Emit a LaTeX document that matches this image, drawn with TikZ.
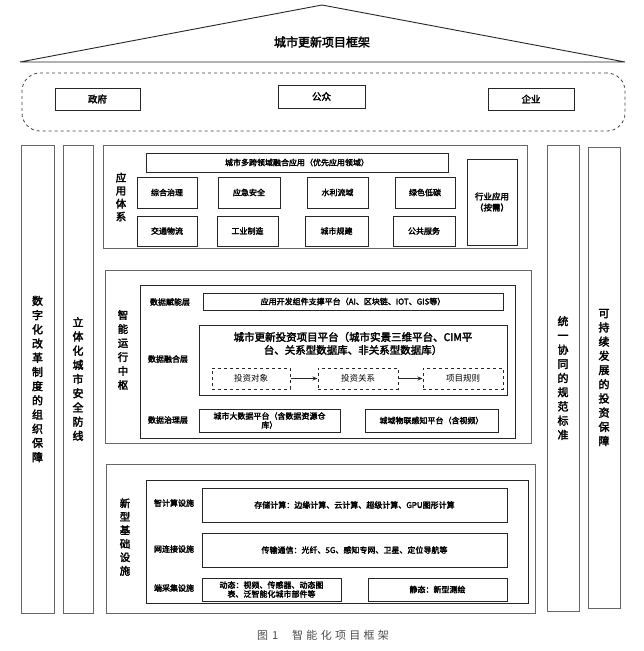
\documentclass[tikz,border=0pt]{standalone}
\usepackage{fontspec}
\setmainfont{Noto Sans CJK SC}[AutoFakeBold=2.6]
\usetikzlibrary{arrows.meta}
\tikzset{
  bx/.style={draw=black!85, line width=1pt, inner sep=0pt, align=center, font=\fontsize{8}{10}\selectfont\bfseries},
  outer/.style={draw=black!60, line width=0.8pt, inner sep=0pt},
  dbox/.style={draw=black!85, line width=1pt, dashed, inner sep=0pt, align=center, font=\fontsize{8.5}{10}\selectfont},
  lbl/.style={inner sep=0pt, align=center, font=\fontsize{8}{10}\selectfont\bfseries},
  vlbl/.style={inner sep=0pt, align=center, font=\fontsize{10.5}{13.5}\selectfont\bfseries},
  vcol/.style={inner sep=0pt, align=center, font=\fontsize{11}{14.2}\selectfont\bfseries},
  arr/.style={-{Stealth[length=5pt,width=4pt]}, line width=1pt, black!85}
}
\begin{document}
\begin{tikzpicture}[x=1pt,y=-1pt]
\useasboundingbox (0,0) rectangle (644,651);
% roof
\draw[black!85, line width=0.9pt] (20,62) coordinate (rl) -- (322,5) coordinate (ra) -- (625,62) coordinate (rr) -- cycle;
\node[inner sep=0pt, font=\fontsize{12}{14}\selectfont\bfseries] (title) at (322,42) {城市更新项目框架};
% stakeholders
\node[draw=black!75, line width=0.8pt, dashed, rounded corners=18pt, minimum width=603, minimum height=58, inner sep=0pt] (stake) at (323.5,102) {};
\node[bx, minimum width=85, minimum height=22, font=\fontsize{9.5}{11}\selectfont\bfseries] (gov) at (97.5,99) {政府};
\node[bx, minimum width=87, minimum height=23, font=\fontsize{9.5}{11}\selectfont\bfseries] (pub) at (321.5,96.5) {公众};
\node[bx, minimum width=86, minimum height=22, font=\fontsize{9.5}{11}\selectfont\bfseries] (ent) at (531,99) {企业};
% columns
\node[outer, minimum width=33, minimum height=468] (c1) at (37.5,379) {};
\node[vcol] at (c1) {数\\字\\化\\改\\革\\制\\度\\的\\组\\织\\保\\障};
\node[outer, minimum width=30, minimum height=468] (c2) at (78,379) {};
\node[vcol] at (c2) {立\\体\\化\\城\\市\\安\\全\\防\\线};
\node[outer, minimum width=32, minimum height=466] (c3) at (563,378) {};
\node[vcol] at (c3) {统\\一\\协\\同\\的\\规\\范\\标\\准};
\node[outer, minimum width=32, minimum height=461] (c4) at (604,377.5) {};
\node[vcol] at (c4) {可\\持\\续\\发\\展\\的\\投\\资\\保\\障};
% block 1
\node[outer, minimum width=424, minimum height=103] (b1) at (315,196.5) {};
\node[vlbl, font=\fontsize{10.5}{13}\selectfont\bfseries] (b1l) at (121,197) {应\\用\\体\\系};
\node[bx, minimum width=302, minimum height=19] (multi) at (297,162.5) {城市多跨领域融合应用（优先应用领域）};
\node[bx, minimum width=60, minimum height=31] (a1) at (167,192.5) {综合治理};
\node[bx, minimum width=62, minimum height=31] (a2) at (249,192.5) {应急安全};
\node[bx, minimum width=61, minimum height=31] (a3) at (337.5,192.5) {水利流域};
\node[bx, minimum width=60, minimum height=31] (a4) at (425,192.5) {绿色低碳};
\node[bx, minimum width=60, minimum height=30] (a5) at (167,231) {交通物流};
\node[bx, minimum width=61, minimum height=30] (a6) at (247.5,231) {工业制造};
\node[bx, minimum width=63, minimum height=30] (a7) at (336.5,231) {城市规建};
\node[bx, minimum width=62, minimum height=30] (a8) at (424,231) {公共服务};
\node[bx, minimum width=50, minimum height=86, font=\fontsize{8.5}{11}\selectfont\bfseries] (ind) at (492,202) {行业应用\\（按需）};
% block 2
\node[outer, minimum width=426, minimum height=173] (b2) at (318,356.5) {};
\node[vlbl, font=\fontsize{10.5}{14}\selectfont\bfseries] (b2l) at (123,350) {智\\能\\运\\行\\中\\枢};
\node[bx, minimum width=375, minimum height=153] (in2) at (327.5,361.5) {};
\node[lbl] (l21) at (170,302) {数据赋能层};
\node[bx, minimum width=300, minimum height=17] (dev) at (353,301.5) {应用开发组件支撑平台（AI、区块链、IOT、GIS等）};
\node[bx, minimum width=308, minimum height=70] (plat) at (353,360) {};
\node[inner sep=0pt, align=center, font=\fontsize{10.5}{13}\selectfont\bfseries] (platt) at (353,343.5) {城市更新投资项目平台（城市实景三维平台、CIM平\\台、关系型数据库、非关系型数据库）};
\node[lbl] (l22) at (168,359) {数据融合层};
\node[dbox, minimum width=78, minimum height=21] (d1) at (251,378.5) {投资对象};
\node[dbox, minimum width=80, minimum height=21] (d2) at (358,378.5) {投资关系};
\node[dbox, minimum width=80, minimum height=21] (d3) at (463,378.5) {项目规则};
\draw[arr] (d1) -- (d2);
\draw[arr] (d2) -- (d3);
\node[lbl] (l23) at (168,420) {数据治理层};
\node[bx, minimum width=141, minimum height=23, font=\fontsize{8}{9}\selectfont\bfseries] (bigd) at (269.5,420.5) {城市大数据平台（含数据资源仓\\库）};
\node[bx, minimum width=133, minimum height=23] (iot) at (431.5,420.5) {城域物联感知平台（含视频）};
% block 3
\node[outer, minimum width=429, minimum height=149] (b3) at (320.5,538.5) {};
\node[vlbl] (b3l) at (125,537) {新\\型\\基\\础\\设\\施};
\node[bx, minimum width=382, minimum height=123] (in3) at (337,541.5) {};
\node[lbl] (l31) at (174,503) {智计算设施};
\node[bx, minimum width=305, minimum height=34] (comp) at (354.5,505) {存储计算：边缘计算、云计算、超级计算、GPU图形计算};
\node[lbl] (l32) at (174,549) {网连接设施};
\node[bx, minimum width=305, minimum height=34] (net) at (354.5,550) {传输通信：光纤、5G、感知专网、卫星、定位导航等};
\node[lbl] (l33) at (174,588) {端采集设施};
\node[bx, minimum width=139, minimum height=23, font=\fontsize{8}{9}\selectfont\bfseries] (dyn) at (271.5,589.5) {动态：视频、传感器、动态图\\表、泛智能化城市部件等};
\node[bx, minimum width=139, minimum height=23] (sta) at (437.5,589.5) {静态：新型测绘};
% caption
\node[inner sep=0pt, text=black!70, font=\fontsize{11}{13}\selectfont\addfontfeatures{LetterSpace=30}] (cap) at (323,635) {图\hspace{4pt}1\hspace{14pt}智能化项目框架};
\end{tikzpicture}
\end{document}
